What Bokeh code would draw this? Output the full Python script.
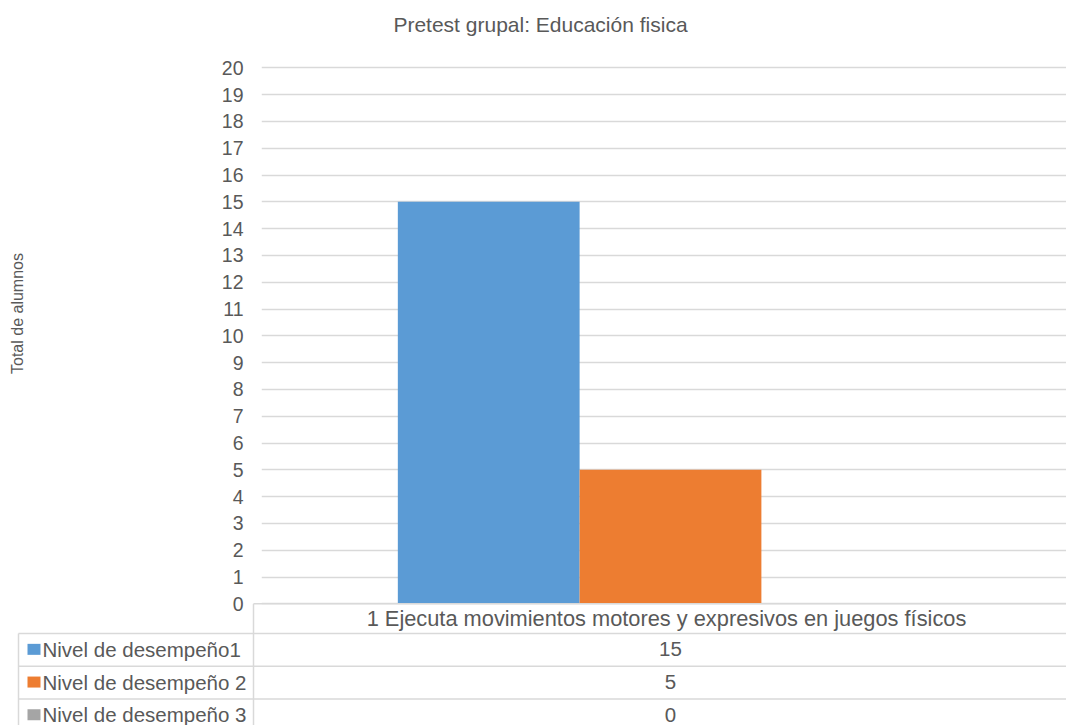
import math

from bokeh.core.properties import value
from bokeh.embed import file_html
from bokeh.models import ColumnDataSource, FixedTicker, Range1d
from bokeh.plotting import figure
from bokeh.resources import INLINE

# ---- data -------------------------------------------------------------
title_text = "Pretest grupal: Educación fisica"
y_title = "Total de alumnos"
categories = ["1 Ejecuta movimientos motores y expresivos en juegos físicos"]
series = ["Nivel de desempeño1", "Nivel de desempeño 2", "Nivel de desempeño 3"]
values = [15, 5, 0]
colors = ["#5B9BD5", "#ED7D31", "#A5A5A5"]
y_ticks = list(range(0, 21))

# ---- layout (pixels) --------------------------------------------------
W, H = 1066, 725
LEFT = 261            # left edge of the plotting frame
ZERO_PX = 603.3       # vertical pixel of y = 0
PX_PER_UNIT = 26.8    # pixels per student
CAT_PX = 818          # width of one category slot
GAP = 1.5             # gap between groups, in bar widths
TEXT = "#595959"
RULE = "#d9d9d9"
FONT = "Liberation Sans"


def xd(px):
    return (px - LEFT) / CAT_PX


def yd(py):
    return (ZERO_PX - py) / PX_PER_UNIT


p = figure(
    frame_width=W - LEFT, frame_height=H,
    x_range=Range1d(xd(LEFT), xd(W)), y_range=Range1d(yd(H), yd(0)),
    output_backend="svg", toolbar_location=None,
    min_border_left=LEFT, min_border_right=0, min_border_top=0, min_border_bottom=0,
    x_axis_location=None,
)
p.outline_line_color = None
p.background_fill_color = "white"
p.border_fill_color = "white"

# y axis: labels only
yax = p.yaxis[0]
yax.ticker = FixedTicker(ticks=y_ticks)
yax.axis_line_color = None
yax.major_tick_line_color = None
yax.minor_tick_line_color = None
yax.major_tick_out = 0
yax.major_tick_in = 0
yax.major_label_standoff = 18
yax.major_label_text_font = FONT
yax.major_label_text_font_size = "19.5px"
yax.major_label_text_color = TEXT

p.xgrid.grid_line_color = None
p.ygrid.ticker = FixedTicker(ticks=y_ticks)
p.ygrid.grid_line_color = RULE
p.ygrid.grid_line_width = 1.5

# ---- clustered bars ---------------------------------------------------
n = len(series)
bar_w = 1.0 / (n + GAP)
cat_center = 0.5
bar_x = [cat_center + (i - (n - 1) / 2) * bar_w for i in range(n)]
bars = ColumnDataSource(dict(x=bar_x, top=values, color=colors, name=series))
p.vbar(x="x", top="top", bottom=0, width=bar_w, fill_color="color",
       line_color=None, source=bars)

# ---- title and axis title ---------------------------------------------
p.text(x=[xd(540)], y=[yd(24)], text=[title_text], text_font=value(FONT),
       text_font_size=value("21px"), text_color=TEXT, text_align="center",
       text_baseline="middle", level="overlay")
p.text(x=[xd(17)], y=[yd(313)], text=[y_title], text_font=value(FONT),
       text_font_size=value("16px"), text_color=TEXT, text_align="center",
       text_baseline="middle", angle=math.pi / 2, level="overlay")

# ---- data table under the chart ---------------------------------------
HEAD_BOTTOM = 633
ROW_H = 32.7
TABLE_LEFT = 18
LABEL_COL = 253
row_top = [HEAD_BOTTOM + i * ROW_H for i in range(n)]
row_mid = [t + ROW_H / 2 - 0.5 for t in row_top]
table_bottom = HEAD_BOTTOM + n * ROW_H

hx0 = [xd(LABEL_COL)] + [xd(TABLE_LEFT)] * n
hx1 = [xd(W)] * (n + 1)
hy = [yd(ZERO_PX)] + [yd(t) for t in row_top]
p.segment(x0=hx0, y0=hy, x1=hx1, y1=hy, line_color=RULE, line_width=1.5,
          level="overlay")
p.segment(x0=[xd(LABEL_COL), xd(TABLE_LEFT)], y0=[yd(ZERO_PX), yd(HEAD_BOTTOM)],
          x1=[xd(LABEL_COL), xd(TABLE_LEFT)], y1=[yd(table_bottom)] * 2,
          line_color=RULE, line_width=1.5, level="overlay")

# category header
p.text(x=[cat_center], y=[yd((ZERO_PX + HEAD_BOTTOM) / 2)], text=categories,
       text_font=value(FONT), text_font_size=value("21.8px"), text_color=TEXT,
       text_align="center", text_baseline="middle", x_offset=-4, level="overlay")

# legend keys and series names
rows = ColumnDataSource(dict(
    k0=[xd(27)] * n, k1=[xd(40)] * n, lx=[xd(42)] * n, vx=[cat_center] * n,
    y=[yd(m) for m in row_mid], color=colors, name=series,
    val=[str(v) for v in values],
))
p.segment(x0="k0", y0="y", x1="k1", y1="y", line_color="color", line_width=11,
          line_cap="butt", source=rows, level="overlay")
p.text(x="lx", y="y", text="name", text_font=value(FONT),
       text_font_size=value("20.5px"), text_color=TEXT, text_align="left",
       text_baseline="middle", source=rows, level="overlay")
p.text(x="vx", y="y", text="val", text_font=value(FONT),
       text_font_size=value("20.5px"), text_color=TEXT, text_align="center",
       text_baseline="middle", source=rows, level="overlay")

open("out.html", "w").write(file_html(p, INLINE))
